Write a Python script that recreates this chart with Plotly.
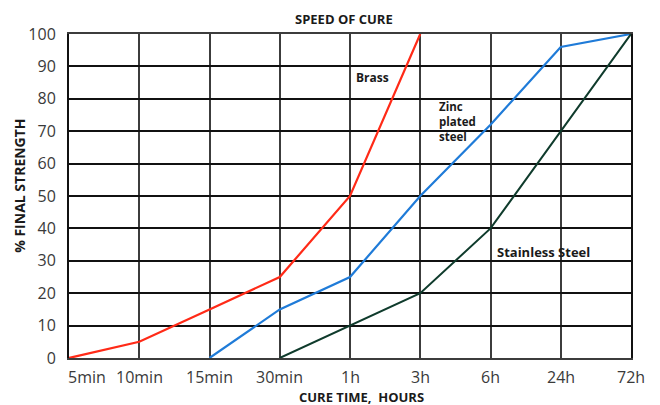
import plotly.graph_objects as go

categories = ["5min", "10min", "15min", "30min", "1h", "3h", "6h", "24h", "72h"]
brass_x = ["5min", "10min", "15min", "30min", "1h", "3h"]
brass_y = [0, 5, 15, 25, 50, 100]
zinc_x = ["15min", "30min", "1h", "3h", "6h", "24h", "72h"]
zinc_y = [0, 15, 25, 50, 72, 96, 100]
steel_x = ["30min", "1h", "3h", "6h", "24h", "72h"]
steel_y = [0, 10, 20, 40, 70, 100]
y_ticks = list(range(0, 101, 10))

idx = {c: i for i, c in enumerate(categories)}

fig = go.Figure()
fig.add_trace(go.Scatter(x=[idx[c] for c in brass_x], y=brass_y, mode="lines",
                         line=dict(color="#ff2a17", width=2.2), name="Brass"))
fig.add_trace(go.Scatter(x=[idx[c] for c in zinc_x], y=zinc_y, mode="lines",
                         line=dict(color="#1f7bd8", width=2.2), name="Zinc plated steel"))
fig.add_trace(go.Scatter(x=[idx[c] for c in steel_x], y=steel_y, mode="lines",
                         line=dict(color="#0f3b2c", width=2.0), name="Stainless Steel"))

tick_font = dict(family="Open Sans", size=16, color="#3a3a3a")
bold12 = dict(family="Open Sans", size=12, color="#1a1a1a")
bold13 = dict(family="Open Sans", size=13, color="#1a1a1a")

annotations = []
for i, c in enumerate(categories):
    annotations.append(dict(x=i, y=0, xref="x", yref="paper", text=c, showarrow=False,
                            xanchor="left" if i == 0 else "center", yanchor="top",
                            yshift=-6, xshift=-3 if i == 0 else 0, font=tick_font))
annotations += [
    dict(x=0.49, y=1.046, xref="paper", yref="paper", text="<b>SPEED OF CURE</b>",
         showarrow=False, yanchor="middle", font=bold13),
    dict(x=4.06, y=86.7, xref="x", yref="y", text="<b>Brass</b>", showarrow=False,
         xanchor="left", font=bold12),
    dict(x=5.24, y=73.0, xref="x", yref="y", text="<b>Zinc<br>plated<br>steel</b>",
         showarrow=False, xanchor="left", align="left",
         font=dict(family="Open Sans", size=11.5, color="#1a1a1a")),
    dict(x=6.06, y=32.7, xref="x", yref="y", text="<b>Stainless Steel</b>",
         showarrow=False, xanchor="left", font=bold13),
    dict(x=0.52, y=-0.12, xref="paper", yref="paper", text="<b>CURE TIME,  HOURS</b>",
         showarrow=False, yanchor="middle", font=bold13),
    dict(x=-0.088, y=0.53, xref="paper", yref="paper", text="<b>% FINAL STRENGTH</b>",
         showarrow=False, textangle=-90, xanchor="center",
         font=dict(family="Open Sans", size=14, color="#1a1a1a")),
]

fig.update_layout(
    width=660, height=405,
    margin=dict(l=69, r=29, t=34, b=47),
    paper_bgcolor="white", plot_bgcolor="white",
    showlegend=False,
    annotations=annotations,
    xaxis=dict(range=[0, 8], tickvals=list(range(len(categories))), showticklabels=False,
               showgrid=True, gridcolor="#3c3c3c", gridwidth=2, zeroline=False,
               showline=True, linecolor="#3c3c3c", linewidth=2, mirror=True, ticks=""),
    yaxis=dict(range=[0, 100], tickvals=y_ticks, showgrid=True, gridcolor="#111111",
               gridwidth=2, zeroline=False, showline=True, linecolor="#111111",
               linewidth=2, mirror=True, ticks="", tickfont=tick_font, ticklabelstandoff=8),
)

fig.write_html("out.html", config={"displayModeBar": False},
               post_script="document.body.style.margin='0';document.body.style.overflow='hidden';")
